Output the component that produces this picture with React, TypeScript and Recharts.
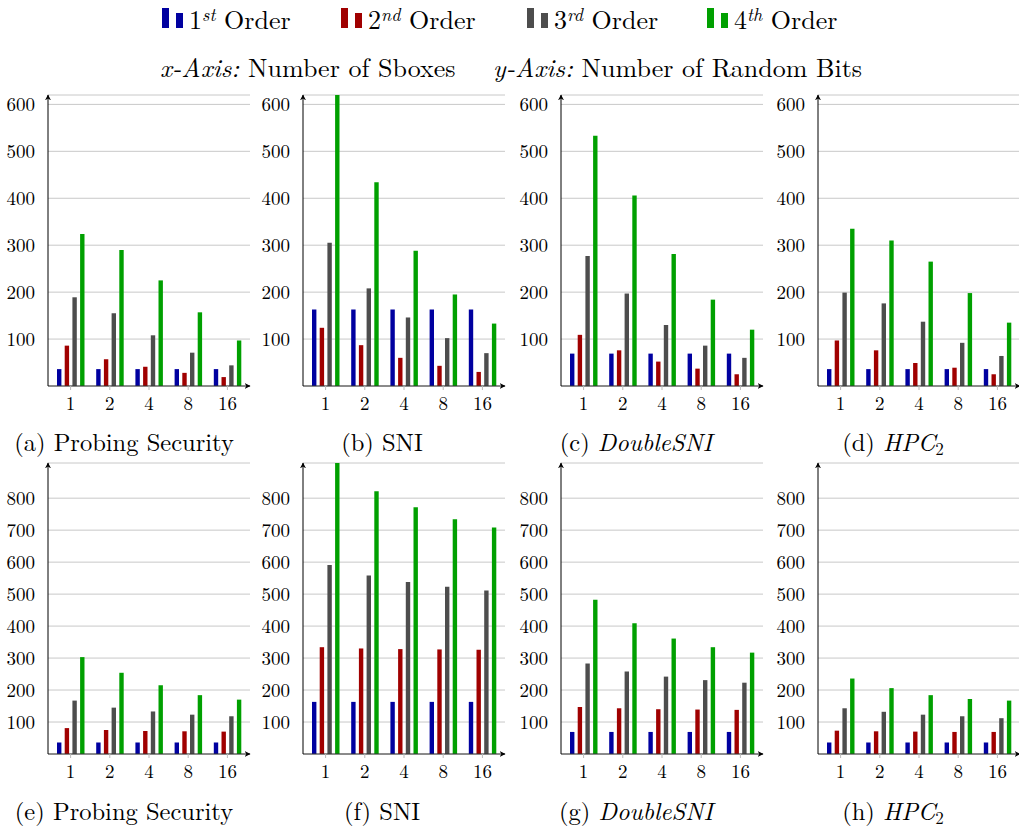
import React from 'react';
import { BarChart, Bar, XAxis, YAxis, CartesianGrid } from 'recharts';

const categories = ['1', '2', '4', '8', '16'];
const orderNames = ['1', '2', '3', '4'];
const orderSup = ['st', 'nd', 'rd', 'th'];
const orderColors = ['#0000a0', '#a00000', '#4d4d4d', '#00a000'];

const topTicks = [100, 200, 300, 400, 500, 600];
const bottomTicks = [100, 200, 300, 400, 500, 600, 700, 800];

// (a) Probing Security
const aFirst = [36, 36, 36, 36, 36];
const aSecond = [86, 57, 41, 28, 19];
const aThird = [189, 155, 108, 71, 44];
const aFourth = [324, 290, 225, 157, 97];
// (b) SNI
const bFirst = [163, 163, 163, 163, 163];
const bSecond = [124, 87, 60, 43, 30];
const bThird = [305, 208, 146, 102, 70];
const bFourth = [625, 434, 288, 195, 133];
// (c) DoubleSNI
const cFirst = [69, 69, 69, 69, 69];
const cSecond = [109, 76, 52, 37, 25];
const cThird = [277, 197, 130, 86, 60];
const cFourth = [533, 406, 281, 184, 120];
// (d) HPC2
const dFirst = [36, 36, 36, 36, 36];
const dSecond = [97, 76, 49, 39, 25];
const dThird = [199, 176, 137, 92, 64];
const dFourth = [335, 310, 265, 198, 135];
// (e) Probing Security
const eFirst = [36, 36, 36, 36, 36];
const eSecond = [81, 75, 72, 71, 70];
const eThird = [167, 145, 133, 123, 118];
const eFourth = [303, 254, 215, 184, 170];
// (f) SNI
const fFirst = [163, 163, 163, 163, 163];
const fSecond = [334, 330, 328, 327, 326];
const fThird = [591, 558, 538, 523, 511];
const fFourth = [915, 822, 772, 734, 708];
// (g) DoubleSNI
const gFirst = [69, 69, 69, 69, 69];
const gSecond = [147, 143, 140, 139, 138];
const gThird = [283, 258, 242, 231, 223];
const gFourth = [482, 409, 361, 334, 317];
// (h) HPC2
const hFirst = [36, 36, 36, 36, 36];
const hSecond = [73, 71, 70, 69, 69];
const hThird = [143, 132, 123, 118, 112];
const hFourth = [236, 206, 184, 172, 167];

const SERIF = "'Latin Modern Roman', 'Liberation Serif', serif";

type PanelProps = {
  axisX: number;
  top: number;
  series: number[][];
  yMax: number;
  ticks: number[];
};

function Panel({ axisX, top, series, yMax, ticks }: PanelProps) {
  const data = categories.map((c, i) => ({
    cat: c,
    o1: series[0][i],
    o2: series[1][i],
    o3: series[2][i],
    o4: series[3][i],
  }));
  const tickStyle = { fontFamily: SERIF, fontSize: 19, fill: '#000' };
  return (
    <div style={{ position: 'absolute', left: axisX - 48, top }}>
      <BarChart
        width={256}
        height={331}
        data={data}
        margin={{ top: 10, right: 6, bottom: 0, left: 0 }}
        barSize={4.4}
        barGap={3.3}
      >
        <CartesianGrid horizontal vertical={false} stroke="#c8c8c8" strokeWidth={1} />
        <XAxis
          dataKey="cat"
          padding={{ left: 3, right: 3 }}
          axisLine={{ stroke: '#333', strokeWidth: 1.2, markerEnd: 'url(#arrowHead)' }}
          tickLine={{ stroke: '#bbbbbb' }}
          tickSize={4}
          tickMargin={7}
          tick={tickStyle}
          height={30}
          interval={0}
        />
        <YAxis
          width={48}
          type="number"
          domain={[0, yMax]}
          ticks={ticks}
          allowDataOverflow
          axisLine={{ stroke: '#000', strokeWidth: 1, markerStart: 'url(#arrowHead)' }}
          tickLine={false}
          tickSize={6}
          tickMargin={7}
          tick={tickStyle}
          interval={0}
        />
        {['o1', 'o2', 'o3', 'o4'].map((k, i) => (
          <Bar key={k} dataKey={k} fill={orderColors[i]} isAnimationActive={false} />
        ))}
      </BarChart>
    </div>
  );
}

const legendIconX = [162, 341, 527, 707];
const topAxes = [48, 303, 561, 818];
const captionCenters = [124, 382, 636, 893];
const topLetters = ['a', 'b', 'c', 'd'];
const bottomLetters = ['e', 'f', 'g', 'h'];
const captionNames = ['Probing Security', 'SNI', 'DoubleSNI', 'HPC'];

function CaptionText({ cx, y, letter, idx }: { cx: number; y: number; letter: string; idx: number }) {
  const name = captionNames[idx];
  return (
    <text x={cx} y={y} textAnchor="middle" fontFamily={SERIF} fontSize={24.5} fill="#000" style={{ whiteSpace: 'pre' }}>
      {`(${letter}) `}
      {idx < 2 ? (
        name
      ) : idx === 2 ? (
        <tspan fontStyle="italic">{name}</tspan>
      ) : (
        <>
          <tspan fontStyle="italic">{name}</tspan>
          <tspan fontSize={17} dy={4}>2</tspan>
        </>
      )}
    </text>
  );
}

export default function App() {
  const topSeries = [
    [aFirst, aSecond, aThird, aFourth],
    [bFirst, bSecond, bThird, bFourth],
    [cFirst, cSecond, cThird, cFourth],
    [dFirst, dSecond, dThird, dFourth],
  ];
  const bottomSeries = [
    [eFirst, eSecond, eThird, eFourth],
    [fFirst, fSecond, fThird, fFourth],
    [gFirst, gSecond, gThird, gFourth],
    [hFirst, hSecond, hThird, hFourth],
  ];
  return (
    <div style={{ position: 'absolute', left: 0, top: 0, width: 1019, height: 830, background: '#fff', overflow: 'hidden' }}>
      {topAxes.map((ax, i) => (
        <Panel key={'t' + i} axisX={ax} top={85} series={topSeries[i]} yMax={620} ticks={topTicks} />
      ))}
      {topAxes.map((ax, i) => (
        <Panel key={'b' + i} axisX={ax} top={453} series={bottomSeries[i]} yMax={910} ticks={bottomTicks} />
      ))}

      <svg width={1019} height={830} style={{ position: 'absolute', left: 0, top: 0, pointerEvents: 'none' }}>
        <defs>
          <marker
            id="arrowHead"
            viewBox="0 0 10 10"
            refX="9"
            refY="5"
            markerWidth="6"
            markerHeight="6"
            markerUnits="userSpaceOnUse"
            orient="auto-start-reverse"
          >
            <path d="M0,0 L10,5 L0,10 L3,5 z" fill="#000" />
          </marker>
        </defs>

        {/* Legend */}
        {orderNames.map((n, i) => (
          <g key={n}>
            <rect x={legendIconX[i]} y={8} width={7} height={20} fill={orderColors[i]} />
            <rect x={legendIconX[i] + 14} y={13} width={7} height={15} fill={orderColors[i]} />
            <text x={legendIconX[i] + 27} y={29} fontFamily={SERIF} fontSize={26} fill="#000" style={{ whiteSpace: 'pre' }}>
              {n}
              <tspan fontSize={18} fontStyle="italic" dy={-8}>{orderSup[i]}</tspan>
              <tspan dy={8}>{' Order'}</tspan>
            </text>
          </g>
        ))}

        {/* Axis description */}
        <text x={160} y={77} fontFamily={SERIF} fontSize={26} fill="#000" style={{ whiteSpace: 'pre' }}>
          <tspan fontStyle="italic">x-Axis:</tspan>
          <tspan>{' Number of Sboxes'}</tspan>
        </text>
        <text x={493} y={77} fontFamily={SERIF} fontSize={26} fill="#000" style={{ whiteSpace: 'pre' }}>
          <tspan fontStyle="italic">y-Axis:</tspan>
          <tspan>{' Number of Random Bits'}</tspan>
        </text>

        {captionCenters.map((cx, i) => (
          <CaptionText key={'tc' + i} cx={cx} y={451} letter={topLetters[i]} idx={i} />
        ))}
        {captionCenters.map((cx, i) => (
          <CaptionText key={'bc' + i} cx={cx} y={820} letter={bottomLetters[i]} idx={i} />
        ))}
      </svg>
    </div>
  );
}
